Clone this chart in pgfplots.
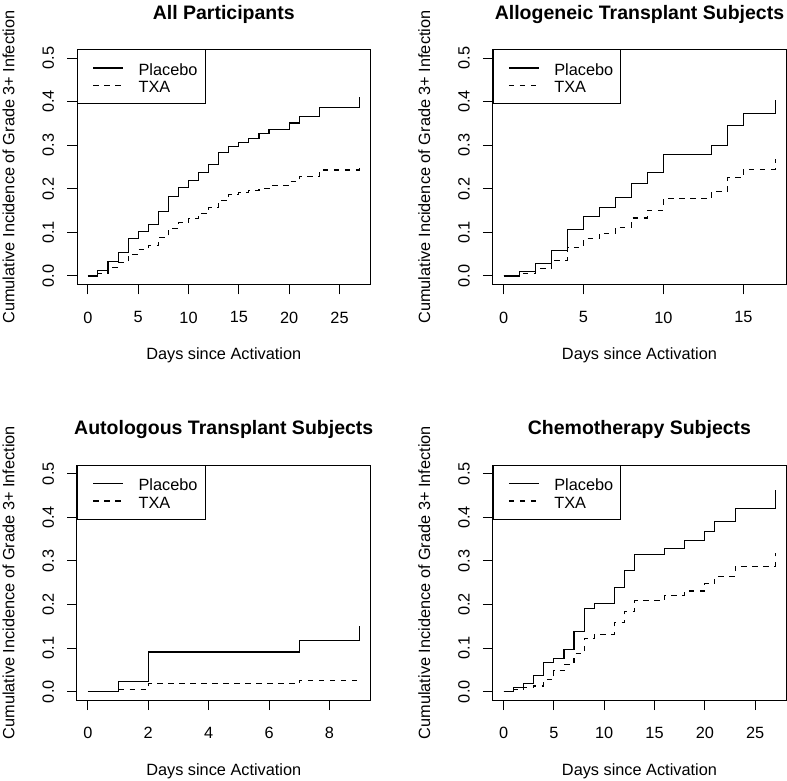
\documentclass[border=0pt]{standalone}
\usepackage{fontspec}
\setmainfont{Liberation Sans}
\usepackage{pgfplots}
\pgfplotsset{compat=1.18}
\newcommand{\basefont}{\fontsize{16.3}{19.5}\selectfont}
\pgfplotsset{
  kmstyle/.style={
    scale only axis, width=293.5pt, height=235.4pt,
    ymin=-0.02, ymax=0.52,
    ytick={0,0.1,0.2,0.3,0.4,0.5},
    axis line style={black, line width=1pt},
    tick style={black, line width=1pt},
    tick align=outside, major tick length=9.8pt,
    xtick pos=bottom, ytick pos=left,
    /pgf/number format/assume math mode=true,
    tick label style={font=\basefont},
    yticklabel style={rotate=90, anchor=south, inner sep=0pt,
      /pgf/number format/fixed, /pgf/number format/zerofill, /pgf/number format/precision=1},
    yticklabel shift=13pt,
    xticklabel style={anchor=north, inner sep=0pt},
    xticklabel shift=17pt,
    every axis title/.style={at={(axis description cs:0.5,1.1287)}, anchor=base, inner sep=0pt, font=\fontsize{19.5}{23}\selectfont\bfseries},
    every axis x label/.style={at={(axis description cs:0.5,-0.3186)}, anchor=base, font=\basefont},
    every axis y label/.style={at={(axis description cs:-0.2136,0.5)}, rotate=90, anchor=base, font=\basefont},
    xlabel={Days since Activation},
    ylabel={Cumulative Incidence of Grade 3+ Infection},
    legend style={at={(0,1)}, anchor=north west, draw=black, line width=1pt,
      inner xsep=0pt, inner ysep=9.5pt, column sep=15pt, row sep=0pt,
      font=\basefont, cells={anchor=west}, nodes={inner sep=0pt}},
    legend image code/.code={\path (0pt,0pt); \draw[##1] (15pt,0pt) -- (45pt,0pt);},
  },
  pla/.style={const plot mark left, no markers, black, line width=1.1pt, solid},
  txa/.style={const plot mark left, no markers, black, line width=1.1pt, dash pattern=on 5.5pt off 5.5pt},
}
\newcommand{\legP}{\makebox[66.6pt][l]{\rule[-4.15pt]{0pt}{20pt}Placebo}}
\newcommand{\legT}{\makebox[66.6pt][l]{\rule[-4.15pt]{0pt}{20pt}TXA}}
\begin{document}
\begin{tikzpicture}
\useasboundingbox (0,0) rectangle (787pt,781pt);
% Panel 1
\begin{axis}[kmstyle, at={(77pt,496.3pt)}, anchor=south west,
  xmin=-1.08, xmax=28.08, xtick={0,5,10,15,20,25}, title={All Participants}]
\addplot[pla] coordinates {(0,0) (1,0.012) (2,0.034) (3,0.054) (4,0.085) (5,0.101) (6,0.118) (7,0.147) (8,0.182) (9,0.203) (10,0.219) (11,0.237) (12,0.256) (13,0.283) (14,0.298) (15,0.307) (16,0.316) (17,0.326) (18,0.336) (20,0.351) (21,0.366) (23,0.386) (27,0.411)};
\addlegendentry{\legP}
\addplot[txa] coordinates {(0,0) (1,0.006) (2,0.020) (3,0.031) (4,0.050) (5,0.060) (6,0.069) (7,0.089) (8,0.109) (9,0.123) (10,0.132) (11,0.144) (12,0.157) (13,0.174) (14,0.187) (15,0.192) (16,0.197) (17,0.201) (18,0.208) (20,0.216) (21,0.229) (23,0.243) (27,0.248)};
\addlegendentry{\legT}
\end{axis}
% Panel 2
\begin{axis}[kmstyle, at={(492.7pt,496.3pt)}, anchor=south west,
  xmin=-0.68, xmax=17.68, xtick={0,5,10,15}, title={Allogeneic Transplant Subjects}]
\addplot[pla] coordinates {(0,0) (1,0.010) (2,0.029) (3,0.058) (4,0.107) (5,0.137) (6,0.157) (7,0.180) (8,0.213) (9,0.238) (10,0.278) (13,0.300) (14,0.345) (15,0.372) (17,0.404)};
\addlegendentry{\legP}
\addplot[txa] coordinates {(0,0) (1,0.006) (2,0.017) (3,0.035) (4,0.066) (5,0.085) (6,0.098) (7,0.112) (8,0.133) (9,0.151) (10,0.177) (13,0.193) (14,0.225) (15,0.245) (17,0.268)};
\addlegendentry{\legT}
\end{axis}
% Panel 3
\begin{axis}[kmstyle, at={(77pt,80.6pt)}, anchor=south west,
  xmin=-0.36, xmax=9.36, xtick={0,2,4,6,8}, title={Autologous Transplant Subjects}]
\addplot[pla] coordinates {(0,0) (1,0.023) (2,0.091) (7,0.117) (9,0.150)};
\addlegendentry{\legP}
\addplot[txa] coordinates {(0,0) (1,0.005) (2,0.018) (7,0.025) (9,0.025)};
\addlegendentry{\legT}
\end{axis}
% Panel 4
\begin{axis}[kmstyle, at={(492.7pt,80.6pt)}, anchor=south west,
  xmin=-1.08, xmax=28.08, xtick={0,5,10,15,20,25}, title={Chemotherapy Subjects}]
\addplot[pla] coordinates {(0,0) (1,0.009) (2,0.018) (3,0.038) (4,0.067) (5,0.076) (6,0.097) (7,0.138) (8,0.191) (9,0.203) (11,0.239) (12,0.277) (13,0.314) (16,0.328) (18,0.346) (20,0.368) (21,0.391) (23,0.420) (27,0.462)};
\addlegendentry{\legP}
\addplot[txa] coordinates {(0,0) (1,0.004) (2,0.009) (3,0.013) (4,0.027) (5,0.048) (6,0.063) (7,0.087) (8,0.122) (9,0.132) (11,0.158) (12,0.183) (13,0.209) (16,0.221) (18,0.231) (20,0.249) (21,0.265) (23,0.288) (27,0.319)};
\addlegendentry{\legT}
\end{axis}
\end{tikzpicture}
\end{document}
